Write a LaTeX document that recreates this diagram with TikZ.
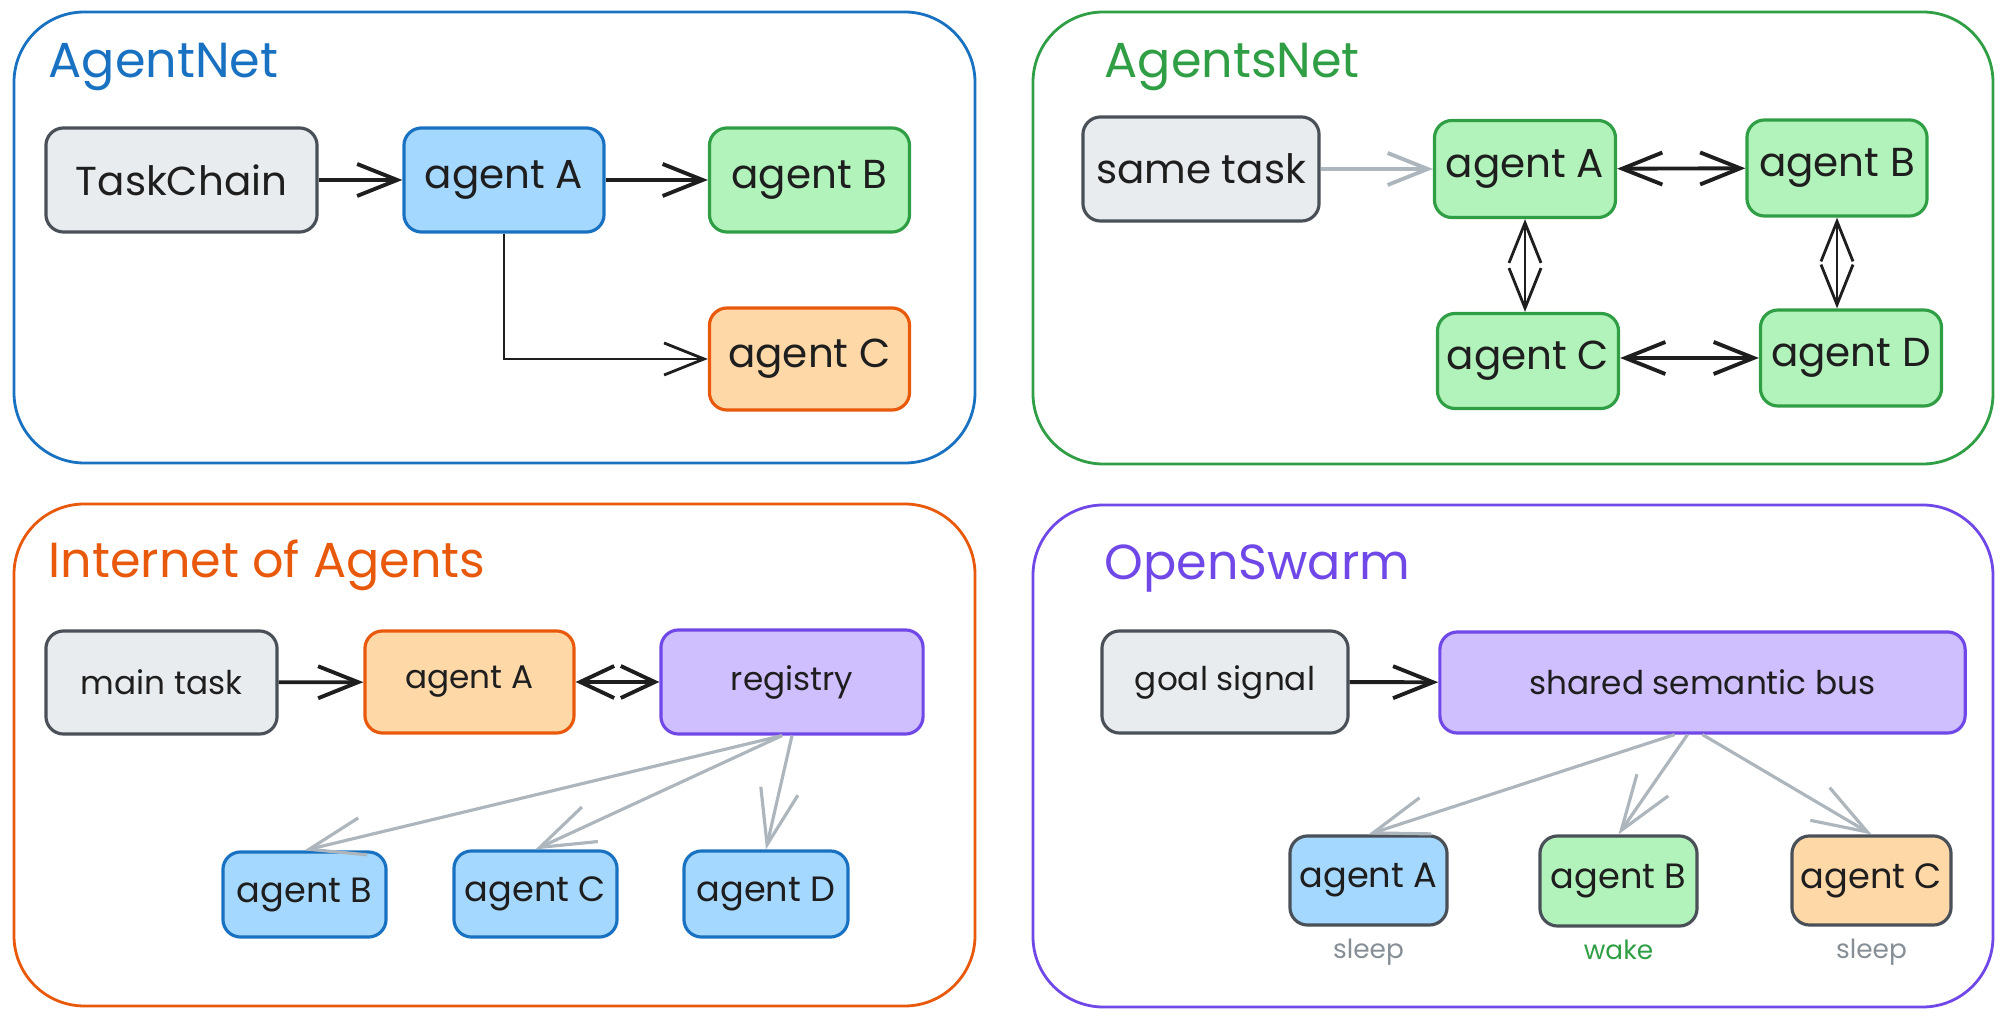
\documentclass[tikz,border=0pt]{standalone}
\usepackage{fontspec}
\setmainfont{Poppins}
\usepackage{xcolor}
\usetikzlibrary{arrows.meta, positioning}

\definecolor{inkblack}{HTML}{1E1E1E}
\definecolor{blueS}{HTML}{1971C2}
\definecolor{blueF}{HTML}{A5D8FF}
\definecolor{greenS}{HTML}{2F9E44}
\definecolor{greenF}{HTML}{B2F2BB}
\definecolor{orangeS}{HTML}{E8590C}
\definecolor{orangeF}{HTML}{FFD8A8}
\definecolor{purpleS}{HTML}{7048E8}
\definecolor{purpleF}{HTML}{D0BFFF}
\definecolor{grayS}{HTML}{495057}
\definecolor{grayF}{HTML}{E9ECEF}
\definecolor{arrowgray}{HTML}{ADB5BD}
\definecolor{labelgray}{HTML}{868E96}

\begin{document}
\begin{tikzpicture}[x=0.01cm, y=-0.01cm, >={Straight Barb[length=4mm, width=3.2mm]},
  panel/.style={rounded corners=20pt, line width=0.8pt},
  paneltitle/.style={anchor=base west, inner sep=0pt, font=\fontsize{14}{16}\selectfont},
  nodebox/.style={draw, rounded corners=5pt, line width=0.9pt, inner sep=0pt, text=inkblack},
  bigtxt/.style={font=\fontsize{11.5}{13}\selectfont},
  midtxt/.style={font=\fontsize{10}{12}\selectfont},
  smalltxt/.style={font=\fontsize{9.3}{11}\selectfont},
  taskbox/.style={nodebox, draw=grayS, fill=grayF},
  bluebox/.style={nodebox, draw=blueS, fill=blueF},
  greenbox/.style={nodebox, draw=greenS, fill=greenF},
  orangebox/.style={nodebox, draw=orangeS, fill=orangeF},
  purplebox/.style={nodebox, draw=purpleS, fill=purpleF},
  inkarrow/.style={->, line width=1.1pt, draw=inkblack},
  greyarrow/.style={-{Straight Barb[length=5.5mm, width=3.8mm]}, line width=0.9pt, draw=arrowgray},
  statetxt/.style={font=\fontsize{7.5}{9}\selectfont, inner sep=1pt}]
  \useasboundingbox (0,0) rectangle (2008,1028);

  % AgentNet
  \draw[panel, draw=blueS] (14,12) rectangle (975,463);
  \node[paneltitle, text=blueS] (t1) at (48,78) {AgentNet};
  \node[taskbox, bigtxt, minimum width=2.71cm, minimum height=1.04cm] (T1) at (181.5,180) {TaskChain};
  \node[bluebox, bigtxt, minimum width=2cm, minimum height=1.04cm] (A1) at (504,180) {agent A};
  \node[greenbox, bigtxt, minimum width=2cm, minimum height=1.04cm] (B1) at (809.5,180) {agent B};
  \node[orangebox, bigtxt, minimum width=2cm, minimum height=1.02cm] (C1) at (809.5,359) {agent C};
  \draw[inkarrow] (T1) -- (A1);
  \draw[inkarrow] (A1) -- (B1);
  \draw[inkarrow, line width=0.8pt] (A1.south) |- (C1.west);

  % AgentsNet
  \draw[panel, draw=greenS] (1033,12) rectangle (1993,464);
  \node[paneltitle, text=greenS] (t2) at (1104,78) {AgentsNet};
  \node[taskbox, bigtxt, minimum width=2.36cm, minimum height=1.04cm] (T2) at (1201,169) {same task};
  \node[greenbox, bigtxt, minimum width=1.81cm, minimum height=0.97cm] (A2) at (1525,169) {agent A};
  \node[greenbox, bigtxt, minimum width=1.8cm, minimum height=0.96cm] (B2) at (1837,168) {agent B};
  \node[greenbox, bigtxt, minimum width=1.81cm, minimum height=0.95cm] (C2) at (1528,361) {agent C};
  \node[greenbox, bigtxt, minimum width=1.81cm, minimum height=0.96cm] (D2) at (1851,358) {agent D};
  \draw[greyarrow, -{Straight Barb[length=4mm, width=3.2mm]}, line width=1.1pt] (T2) -- (A2);
  \draw[inkarrow, <->] (A2) -- (B2);
  \draw[inkarrow, <->, line width=0.8pt] (A2.south) -- (A2.south |- C2.north);
  \draw[inkarrow, <->, line width=0.8pt] (B2.south) -- (B2.south |- D2.north);
  \draw[inkarrow, <->] (C2.east |- D2.west) -- (D2.west);

  % Internet of Agents
  \draw[panel, draw=orangeS] (14,504) rectangle (975,1006);
  \node[paneltitle, text=orangeS] (t3) at (48,578) {Internet of Agents};
  \node[taskbox, smalltxt, minimum width=2.31cm, minimum height=1.03cm] (T3) at (161.5,682.5) {main task};
  \node[orangebox, smalltxt, minimum width=2.09cm, minimum height=1.02cm] (A3) at (469.5,682) {agent A};
  \node[purplebox, smalltxt, minimum width=2.62cm, minimum height=1.04cm] (R3) at (792,682) {registry};
  \node[bluebox, midtxt, minimum width=1.63cm, minimum height=0.85cm] (B3) at (304.5,894.5) {agent B};
  \node[bluebox, midtxt, minimum width=1.63cm, minimum height=0.86cm] (C3) at (535.5,894) {agent C};
  \node[bluebox, midtxt, minimum width=1.64cm, minimum height=0.86cm] (D3) at (766,894) {agent D};
  \draw[inkarrow] (T3) -- (A3);
  \draw[inkarrow, {Straight Barb[length=3.4mm, width=3.2mm]}-{Straight Barb[length=3.4mm, width=3.2mm]}] (A3) -- (R3);
  \draw[greyarrow] ([xshift=-1mm]R3.south) -- (B3.north);
  \draw[greyarrow] ([xshift=-1mm]R3.south) -- (C3.north);
  \draw[greyarrow] (R3.south) -- (D3.north);

  % OpenSwarm
  \draw[panel, draw=purpleS] (1033,505) rectangle (1993,1007);
  \node[paneltitle, text=purpleS] (t4) at (1104,580) {OpenSwarm};
  \node[taskbox, smalltxt, minimum width=2.46cm, minimum height=1.02cm] (T4) at (1225,682) {goal signal};
  \node[purplebox, smalltxt, minimum width=5.25cm, minimum height=1.01cm] (S4) at (1702.5,682.5) {shared semantic bus};
  \node[bluebox, draw=grayS, midtxt, minimum width=1.57cm, minimum height=0.89cm] (A4) at (1368.5,880.5) {agent A};
  \node[greenbox, draw=grayS, midtxt, minimum width=1.57cm, minimum height=0.9cm] (B4) at (1618.5,881) {agent B};
  \node[orangebox, draw=grayS, midtxt, minimum width=1.59cm, minimum height=0.89cm] (C4) at (1871.5,880.5) {agent C};
  \node[statetxt, text=labelgray, below=0.8mm of A4] (A4s) {sleep};
  \node[statetxt, text=greenS, below=0.8mm of B4] (B4s) {wake};
  \node[statetxt, text=labelgray, below=0.8mm of C4] (C4s) {sleep};
  \draw[inkarrow] (T4) -- (S4);
  \draw[greyarrow] ([xshift=-2.8mm]S4.south) -- (A4.north);
  \draw[greyarrow] ([xshift=-1.5mm]S4.south) -- (B4.north);
  \draw[greyarrow] (S4.south) -- (C4.north);
\end{tikzpicture}
\end{document}
